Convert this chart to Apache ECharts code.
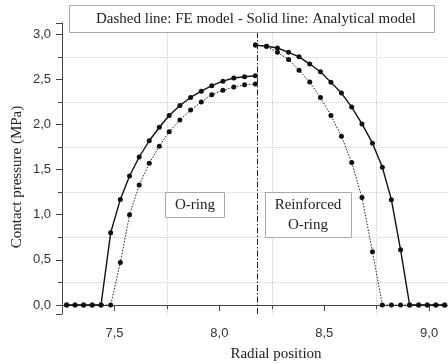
<!DOCTYPE html>
<html>
<head>
<meta charset="utf-8">
<script src="https://cdn.jsdelivr.net/npm/echarts@6/dist/echarts.min.js"></script>
<style>
    html, body { margin: 0; padding: 0; background: #fff; }
    #chart { width: 448px; height: 364px; }
</style>
</head>
<body>
<div id="chart"></div>
<script>
// Radial positions of the computed points
var oringX = [7.272, 7.312, 7.353, 7.394, 7.436, 7.482, 7.528, 7.572, 7.618, 7.666,
              7.714, 7.761, 7.812, 7.863, 7.914, 7.964, 8.017, 8.069, 8.120, 8.172];
var oringAnalytical = [0, 0, 0, 0, 0, 0.80, 1.17, 1.43, 1.64, 1.82,
                       1.97, 2.10, 2.21, 2.30, 2.37, 2.43, 2.48, 2.515, 2.53, 2.54];
var oringFE = [0, 0, 0, 0, 0, 0, 0.47, 1.00, 1.33, 1.57,
               1.76, 1.92, 2.05, 2.16, 2.25, 2.33, 2.38, 2.415, 2.44, 2.45];

var reinfX = [8.172, 8.225, 8.277, 8.330, 8.380, 8.431, 8.482, 8.532, 8.582, 8.631,
              8.680, 8.730, 8.777, 8.820, 8.864, 8.907, 8.950, 8.991, 9.032, 9.074];
var reinfAnalytical = [2.88, 2.867, 2.848, 2.80, 2.75, 2.67, 2.585, 2.467, 2.348, 2.193,
                       2.007, 1.793, 1.526, 1.167, 0.611, 0, 0, 0, 0, 0];
var reinfFE = [2.88, 2.867, 2.80, 2.72, 2.60, 2.47, 2.30, 2.10, 1.87, 1.58,
               1.19, 0.59, 0, 0, 0, 0, 0, 0, 0, 0];

// interface between the two rings
var interfaceX = 8.175;

function zip(xs, ys) {
    return xs.map(function(x, i) { return [x, ys[i]]; });
}

function comma(v) {
    return v.toFixed(1).replace('.', ',');
}

var serif = 'Liberation Serif';
var sans = 'Liberation Sans';

var myChart = echarts.init(document.getElementById('chart'), null, { renderer: 'canvas' });

function axisBase(margin) {
    return {
        axisLine: { lineStyle: { color: '#444', width: 1 } },
        axisTick: { length: 6, lineStyle: { color: '#444' } },
        minorTick: { show: true, splitNumber: 2, length: 4, lineStyle: { color: '#444' } },
        splitLine: { show: false },
        minorSplitLine: { show: true, lineStyle: { color: '#cfcfcf', type: 'dotted', width: 1 } },
        axisLabel: {
            color: '#333', fontFamily: sans, fontSize: 13, margin: margin,
            showMinLabel: false, showMaxLabel: false,
            formatter: function(v) { return comma(v); }
        }
    };
}

function solidSeries(data) {
    return {
        type: 'line', data: data, showSymbol: true, symbol: 'circle', symbolSize: 5,
        itemStyle: { color: '#111' },
        lineStyle: { color: '#111', width: 1.4 },
        animation: false, z: 3
    };
}

function dottedSeries(data) {
    return {
        type: 'line', data: data, showSymbol: true, symbol: 'circle', symbolSize: 5,
        itemStyle: { color: '#111' },
        lineStyle: { color: '#222', width: 1, type: [1.5, 1.5] },
        animation: false, z: 2
    };
}

var option = {
    animation: false,
    grid: { left: 62, right: 0, top: 23, bottom: 50, containLabel: false },
    xAxis: Object.assign(axisBase(13), {
        type: 'value', min: 7.25, max: 9.09, splitNumber: 4
    }),
    yAxis: Object.assign(axisBase(11), {
        type: 'value', min: -0.1, max: 3.125, splitNumber: 6
    }),
    series: [
        solidSeries(zip(oringX, oringAnalytical)),
        dottedSeries(zip(oringX, oringFE)),
        solidSeries(zip(reinfX, reinfAnalytical)),
        dottedSeries(zip(reinfX, reinfFE)),
        {
            type: 'line', data: [], silent: true,
            markLine: {
                silent: true, symbol: 'none', animation: false,
                label: { show: false },
                lineStyle: { color: '#222', width: 1, type: [6, 2, 1.5, 2] },
                data: [{ xAxis: interfaceX }]
            }
        }
    ],
    graphic: [
        {
            type: 'rect', shape: { x: 69.5, y: 5.5, width: 365, height: 27 },
            style: { fill: '#fff', stroke: '#aaa', lineWidth: 1 }, z: 10
        },
        {
            type: 'text', x: 256, y: 19, z: 11,
            style: {
                text: 'Dashed line: FE model - Solid line: Analytical model',
                font: '15px "' + serif + '"', fill: '#222', align: 'center', verticalAlign: 'middle'
            }
        },
        {
            type: 'rect', shape: { x: 165.5, y: 192.5, width: 59, height: 25 },
            style: { fill: '#fff', stroke: '#aaa', lineWidth: 1 }, z: 10
        },
        {
            type: 'text', x: 195, y: 205, z: 11,
            style: {
                text: 'O-ring', font: '15px "' + serif + '"', fill: '#222',
                align: 'center', verticalAlign: 'middle'
            }
        },
        {
            type: 'rect', shape: { x: 265.5, y: 192.5, width: 86, height: 45 },
            style: { fill: '#fff', stroke: '#aaa', lineWidth: 1 }, z: 10
        },
        {
            type: 'text', x: 308, y: 215, z: 11,
            style: {
                text: 'Reinforced\nO-ring', font: '15px "' + serif + '"', fill: '#222',
                align: 'center', verticalAlign: 'middle', lineHeight: 20
            }
        },
        {
            type: 'text', x: 276, y: 354, z: 11,
            style: {
                text: 'Radial position', font: '15px "' + serif + '"', fill: '#222',
                align: 'center', verticalAlign: 'middle'
            }
        },
        {
            type: 'text', x: 17, y: 177, rotation: Math.PI / 2, z: 11,
            style: {
                text: 'Contact pressure (MPa)', font: '15px "' + serif + '"', fill: '#222',
                align: 'center', verticalAlign: 'middle'
            }
        }
    ]
};

myChart.setOption(option);
</script>
</body>
</html>
